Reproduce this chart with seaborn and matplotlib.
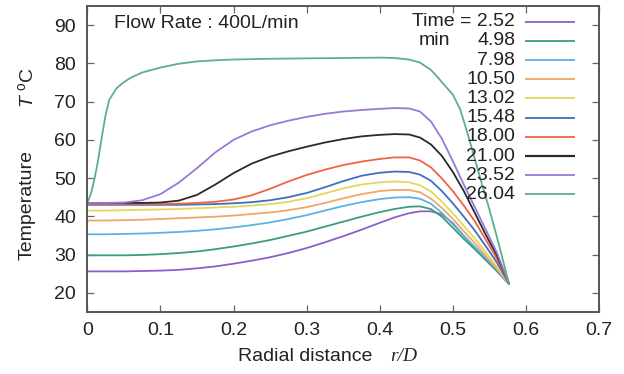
import numpy as np
import pandas as pd
import matplotlib
matplotlib.use("Agg")
import matplotlib.pyplot as plt
import seaborn as sns

# ---- data ----
times = ["2.52", "4.98", "7.98", "10.50", "13.02", "15.48", "18.00", "21.00", "23.52", "26.04"]
colors = ["#8a5fcb", "#3c9e78", "#5cb2e2", "#f0a864", "#e2d95c", "#3e6fbf", "#f0643f", "#2a2a2a", "#9a78d6", "#5fae8a"]

# radial positions r/D shared by the first nine profiles
r_grid = [0.0, 0.025, 0.05, 0.075, 0.1, 0.125, 0.15, 0.175, 0.2, 0.225, 0.25, 0.275,
          0.3, 0.325, 0.35, 0.375, 0.4, 0.42, 0.44, 0.455, 0.47, 0.485, 0.5, 0.515,
          0.53, 0.545, 0.56, 0.577]

y_t252 = [25.6, 25.6, 25.6, 25.7, 25.8, 26.0, 26.4, 26.9, 27.6, 28.4, 29.3, 30.4,
          31.7, 33.2, 34.8, 36.5, 38.3, 39.7, 40.8, 41.3, 41.3, 40.5, 38.2, 34.9,
          31.6, 28.6, 25.7, 22.3]
y_t498 = [29.8, 29.8, 29.8, 29.9, 30.1, 30.4, 30.8, 31.4, 32.1, 32.9, 33.8, 34.9,
          36.0, 37.3, 38.6, 39.9, 41.1, 41.9, 42.5, 42.6, 41.9, 39.9, 37.0, 34.1,
          31.4, 28.6, 25.8, 22.3]
y_t798 = [35.3, 35.3, 35.4, 35.5, 35.7, 35.9, 36.2, 36.6, 37.1, 37.7, 38.4, 39.3,
          40.3, 41.5, 42.7, 43.7, 44.5, 44.9, 45.0, 44.6, 43.3, 40.9, 37.9, 34.9,
          32.0, 29.1, 26.1, 22.3]
y_t1050 = [38.9, 38.9, 39.0, 39.1, 39.3, 39.5, 39.7, 39.9, 40.2, 40.6, 41.0, 41.6,
           42.4, 43.5, 44.7, 45.8, 46.6, 46.9, 46.9, 46.3, 44.6, 42.2, 39.3, 36.1,
           33.0, 29.7, 26.4, 22.3]
y_t1302 = [41.5, 41.5, 41.6, 41.7, 41.8, 41.9, 42.1, 42.3, 42.5, 42.8, 43.2, 43.8,
           44.7, 46.0, 47.3, 48.3, 48.9, 49.1, 48.9, 48.1, 46.5, 43.8, 40.8, 37.5,
           34.2, 30.6, 26.9, 22.3]
y_t1548 = [43.0, 43.0, 43.0, 43.0, 43.0, 43.0, 43.1, 43.2, 43.4, 43.7, 44.2, 45.0,
           46.1, 47.6, 49.2, 50.6, 51.4, 51.7, 51.6, 50.9, 49.3, 46.6, 43.4, 39.9,
           36.3, 32.2, 28.0, 22.3]
y_t1800 = [43.2, 43.2, 43.2, 43.2, 43.2, 43.3, 43.5, 43.8, 44.4, 45.5, 47.2, 49.1,
           50.8, 52.2, 53.4, 54.3, 55.0, 55.4, 55.4, 54.6, 52.8, 49.9, 46.6, 42.8,
           38.7, 33.9, 29.0, 22.3]
y_t2100 = [43.5, 43.5, 43.5, 43.5, 43.6, 44.1, 45.6, 48.3, 51.3, 53.8, 55.6, 57.0,
           58.2, 59.3, 60.2, 60.9, 61.3, 61.5, 61.4, 60.6, 58.8, 55.8, 51.6, 46.6,
           40.9, 35.2, 29.9, 22.3]
y_t2352 = [43.5, 43.5, 43.6, 44.2, 45.8, 48.8, 52.6, 56.7, 60.0, 62.2, 63.8, 65.0,
           66.0, 66.8, 67.4, 67.8, 68.1, 68.3, 68.2, 67.4, 64.8, 60.3, 54.4, 48.3,
           42.4, 36.5, 30.6, 22.3]

# the hottest profile has its own (denser near the wall) positions
r_t2604 = [0.0, 0.005, 0.01, 0.015, 0.02, 0.025, 0.03, 0.04, 0.05, 0.06, 0.075, 0.1,
           0.125, 0.15, 0.175, 0.2, 0.25, 0.3, 0.35, 0.4, 0.42, 0.44, 0.455, 0.47,
           0.48, 0.49, 0.5, 0.51, 0.52, 0.53, 0.54, 0.55, 0.56, 0.577]
y_t2604 = [43.5, 46.0, 50.0, 55.0, 61.0, 66.5, 70.5, 73.5, 75.1, 76.3, 77.6, 78.9,
           79.9, 80.5, 80.8, 81.0, 81.2, 81.3, 81.4, 81.5, 81.4, 81.0, 80.2, 78.3,
           76.2, 74.0, 71.8, 68.0, 61.8, 55.0, 48.3, 41.8, 34.8, 22.3]

ys = [y_t252, y_t498, y_t798, y_t1050, y_t1302, y_t1548, y_t1800, y_t2100, y_t2352, y_t2604]
xs = [r_grid] * 9 + [r_t2604]

x_ticks = [0, 0.1, 0.2, 0.3, 0.4, 0.5, 0.6, 0.7]
x_ticklabels = ["0", "0.1", "0.2", "0.3", "0.4", "0.5", "0.6", "0.7"]
y_ticks = [20, 30, 40, 50, 60, 70, 80, 90]

rows = []
for t, xx, yy in zip(times, xs, ys):
    for a, b in zip(xx, yy):
        rows.append({"time": t, "r": a, "T": b})
df = pd.DataFrame(rows)

# ---- style ----
sns.set_theme(style="ticks")
plt.rcParams["font.family"] = ["Liberation Sans", "DejaVu Sans"]
plt.rcParams["mathtext.fontset"] = "custom"
plt.rcParams["mathtext.rm"] = "Liberation Sans"
plt.rcParams["mathtext.it"] = "Liberation Sans:italic"
plt.rcParams["mathtext.bf"] = "Liberation Sans:bold"

fig = plt.figure(figsize=(6.24, 3.74), dpi=100)
ax = fig.add_axes([0.140, 0.166, 0.820, 0.818])

sns.lineplot(data=df, x="r", y="T", hue="time", hue_order=times,
             palette=colors, sort=False, estimator=None, legend=False,
             linewidth=1.3, ax=ax)

ax.set_xlim(0, 0.7)
ax.set_ylim(15, 95)
ax.set_xticks(x_ticks)
ax.set_xticklabels(x_ticklabels)
ax.set_yticks(y_ticks)
ax.set_xlabel("")
ax.set_ylabel("")

spine_c = "#555555"
for s in ax.spines.values():
    s.set_visible(True)
    s.set_color(spine_c)
    s.set_linewidth(1.4)
ax.tick_params(axis="both", direction="in", length=5, width=0.9, color="#666666",
               top=True, right=True, labelsize=14, labelcolor="#222222")
ax.tick_params(axis="x", pad=7)
ax.tick_params(axis="y", pad=8)

# axis labels
ax.text(-0.118, 0.35, "Temperature", transform=ax.transAxes, rotation=90,
        ha="center", va="center", fontsize=14, color="#222222")
ax.text(-0.118, 0.735, r"$T$ $^{\rm o}$C", transform=ax.transAxes, rotation=90,
        ha="center", va="center", fontsize=14, color="#222222")
ax.text(0.425, -0.147, "Radial distance", transform=ax.transAxes,
        ha="center", va="center", fontsize=14, color="#222222")
ax.text(0.619, -0.147, "r/D", transform=ax.transAxes, style="italic",
        family=["Liberation Serif", "DejaVu Serif"],
        ha="center", va="center", fontsize=14, color="#222222")

ax.text(0.052, 0.944, "Flow Rate : 400L/min", transform=ax.transAxes,
        ha="left", va="center", fontsize=14, color="#222222")

# legend (gnuplot style: right-aligned text, sample to the right)
for i, (t, c) in enumerate(zip(times, colors)):
    ypx = 21.7 + i * 19.2
    ya = (312 - ypx) / 306
    label = "Time = " + t if i == 0 else t
    ax.text(0.836, ya, label, transform=ax.transAxes, ha="right", va="center",
            fontsize=14, color="#222222")
    ax.plot([0.855, 0.953], [ya, ya], transform=ax.transAxes, color=c,
            linewidth=1.6 if t in ("21.00",) else 1.3, solid_capstyle="butt")
ax.text(0.678, (312 - 41.0) / 306, "min", transform=ax.transAxes,
        ha="center", va="center", fontsize=14, color="#222222")

fig.savefig("out.png", dpi=100)
